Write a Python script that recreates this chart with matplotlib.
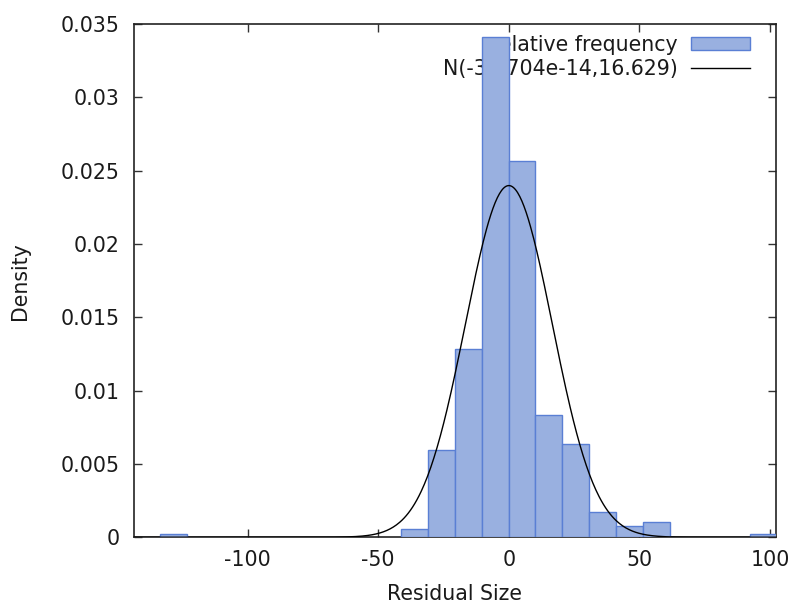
import numpy as np
import matplotlib
matplotlib.use('Agg')
import matplotlib.pyplot as plt

# histogram bins (left edge, density), bin width
bin_width = 10.27
bin_left = [-133.6, -41.17, -30.9, -20.63, -10.36, -0.09, 10.18, 20.45, 30.72, 40.99, 51.26, 92.3]
density = [0.00025, 0.00055, 0.00593, 0.01285, 0.0341, 0.0257, 0.00836, 0.00638, 0.00169, 0.00075, 0.00107, 0.00025]

# fitted normal from the legend
mu = -3.1704e-14
sigma = 16.629

x_ticks = [-100, -50, 0, 50, 100]
y_ticks = [0, 0.005, 0.01, 0.015, 0.02, 0.025, 0.03, 0.035]
y_tick_labels = ['0', '0.005', '0.01', '0.015', '0.02', '0.025', '0.03', '0.035']

plt.rcParams['font.family'] = ['DejaVu Sans']
plt.rcParams['font.size'] = 14.8

fig = plt.figure(figsize=(7.96, 6.05), dpi=100)
ax = fig.add_axes([0.168, 0.112, 0.807, 0.848])

bars = ax.bar(bin_left, density, width=bin_width, align='edge',
              color='#99b0e0', edgecolor='#5a7fd4', linewidth=1.0,
              label='relative frequency', zorder=3)

xs = np.linspace(-143.6, 102.3, 600)
pdf = np.exp(-0.5 * ((xs - mu) / sigma) ** 2) / (sigma * np.sqrt(2 * np.pi))
curve, = ax.plot(xs, pdf, color='black', linewidth=1.0,
                 label='N(-3.1704e-14,16.629)', zorder=4)

ax.set_xlim(-143.6, 102.3)
ax.set_ylim(0, 0.035)
ax.set_xticks(x_ticks)
ax.set_xticklabels([str(t) for t in x_ticks])
ax.set_yticks(y_ticks)
ax.set_yticklabels(y_tick_labels)
ax.tick_params(direction='in', length=6, width=1, top=True, right=True,
               colors='#333333', labelcolor='#1a1a1a')
ax.tick_params(axis='x', pad=9)
ax.tick_params(axis='y', pad=10)
for sp in ax.spines.values():
    sp.set_linewidth(1.2)
    sp.set_color('#222222')

ax.set_xlabel('Residual Size', labelpad=10, color='#1a1a1a')
ax.set_ylabel('Density', labelpad=22, color='#1a1a1a')

leg = ax.legend([bars, curve], ['relative frequency', 'N(-3.1704e-14,16.629)'],
                loc='upper right', frameon=False, markerfirst=False,
                handlelength=2.85, handleheight=0.6, handletextpad=0.65,
                labelspacing=0.2, borderaxespad=0.0,
                bbox_to_anchor=(0.972, 0.995))
for t in leg.get_texts():
    t.set_ha('right')
    t.set_color('#1a1a1a')
leg.set_zorder(1)

fig.savefig('out.png', dpi=100)
